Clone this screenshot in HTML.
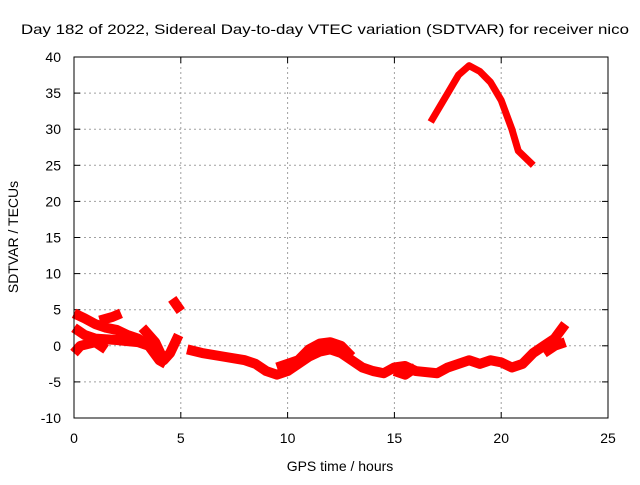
<!DOCTYPE html>
<html><head><meta charset="utf-8"><style>
body{margin:0;background:#fff}
svg{font-family:"Liberation Sans",sans-serif;font-size:14px}
</style></head><body>
<svg width="640" height="480">
<rect width="640" height="480" fill="#fff"/>
<g id="grid"></g>
<g id="ticks"></g>
<g id="series"></g>
<rect x="74" y="57" width="534" height="361" fill="none" stroke="#000" stroke-width="1"/>
<text x="325" y="34" text-anchor="middle" textLength="608" lengthAdjust="spacingAndGlyphs">Day 182 of 2022, Sidereal Day-to-day VTEC variation (SDTVAR) for receiver nico</text>
<text x="340" y="471" text-anchor="middle">GPS time / hours</text>
<text transform="translate(18,237) rotate(-90)" text-anchor="middle">SDTVAR / TECUs</text>
</svg>
<script>
const xTicks=[0,5,10,15,20,25];
const yTicks=[-10,-5,0,5,10,15,20,25,30,35,40];
const trackA=[[0,4.5],[0.5,3.8],[1,3],[1.5,2.5],[2,2.2],[2.5,1.5],[3,1.0],[3.5,0],[4,-1.5]];
const trackB=[[0,2.5],[0.5,1.5],[1,1],[2,0.8],[3,0.5],[3.5,0],[4,-2],[4.3,-2.5]];
const trackC=[[1.2,3.5],[1.8,4],[2.2,4.5]];
const trackD=[[0,-1],[0.3,0],[1,0.5],[1.5,-0.5]];
const trackE=[[3.2,2.5],[3.8,0.5],[4.2,-2],[4.5,-1],[4.9,1.5]];
const trackF=[[4.6,6.5],[5.0,4.8]];
const trackG=[[5.3,-0.5],[6,-1],[7,-1.5],[8,-2],[8.5,-2.5],[9,-3.5],[9.5,-4],[10,-3.5],[10.5,-2.5],[11,-1.5],[11.5,-0.8],[12,-0.5],[12.5,-1],[13,-2],[13.5,-3],[14,-3.5],[14.5,-3.8],[15,-3],[15.5,-2.8],[16,-3.5],[17,-3.8],[17.5,-3],[18,-2.5],[18.5,-2],[19,-2.5],[19.5,-2],[20,-2.3],[20.5,-3],[21,-2.5],[21.5,-1],[22,0],[22.5,1],[23,3]];
const trackH=[[9.5,-3],[10.5,-2],[11,-0.5],[11.5,0.3],[12,0.5],[12.5,0],[13,-1.5]];
const trackI=[[22,-1],[22.5,0],[23,0.5]];
const trackJ=[[15,-3.5],[15.5,-4],[16,-3]];
const trackTop=[[16.7,31],[17,32.5],[17.5,35],[18,37.5],[18.5,38.8],[19,38],[19.5,36.5],[20,34],[20.5,30],[20.8,27],[21.5,25]];
const tracks=[trackA,trackB,trackC,trackD,trackE,trackF,trackG,trackH,trackI,trackJ,trackTop];
const X=h=>74+h*534/25;
const Y=v=>418-(v+10)*361/50;
const NS="http://www.w3.org/2000/svg";
function mk(t,a,p){const e=document.createElementNS(NS,t);for(const k in a)e.setAttribute(k,a[k]);p.appendChild(e);return e;}
const grid=document.getElementById('grid'),ticks=document.getElementById('ticks'),series=document.getElementById('series');
xTicks.forEach(t=>{const x=X(t);
 if(t>0&&t<25){const l=mk('line',{x1:x,x2:x,y1:57,y2:418,stroke:'#a0a0a0','stroke-dasharray':'2,3'},grid);
 
 }
 mk('line',{x1:x,x2:x,y1:418,y2:412,stroke:'#000'},ticks);
 mk('line',{x1:x,x2:x,y1:57,y2:63,stroke:'#000'},ticks);
 const tx=mk('text',{x:x,y:443,'text-anchor':'middle'},ticks);tx.textContent=t;
 
 });
yTicks.forEach(t=>{const y=Y(t);
 if(t>-10&&t<40){const l=mk('line',{x1:74,x2:608,y1:y,y2:y,stroke:'#a0a0a0','stroke-dasharray':'2,3'},grid);
 
 }
 mk('line',{x1:74,x2:80,y1:y,y2:y,stroke:'#000'},ticks);
 mk('line',{x1:602,x2:608,y1:y,y2:y,stroke:'#000'},ticks);
 const tx=mk('text',{x:61,y:y+5,'text-anchor':'end'},ticks);tx.textContent=t;
 
 });
tracks.forEach(tr=>{const w=(tr===trackTop)?7:10;
 const pl=mk('polyline',{points:tr.map(p=>X(p[0])+','+Y(p[1])).join(' '),fill:'none',stroke:'#ff0000','stroke-width':w,'stroke-linejoin':'round','stroke-linecap':'butt'},series);
 
 });
</script>
</body></html>
